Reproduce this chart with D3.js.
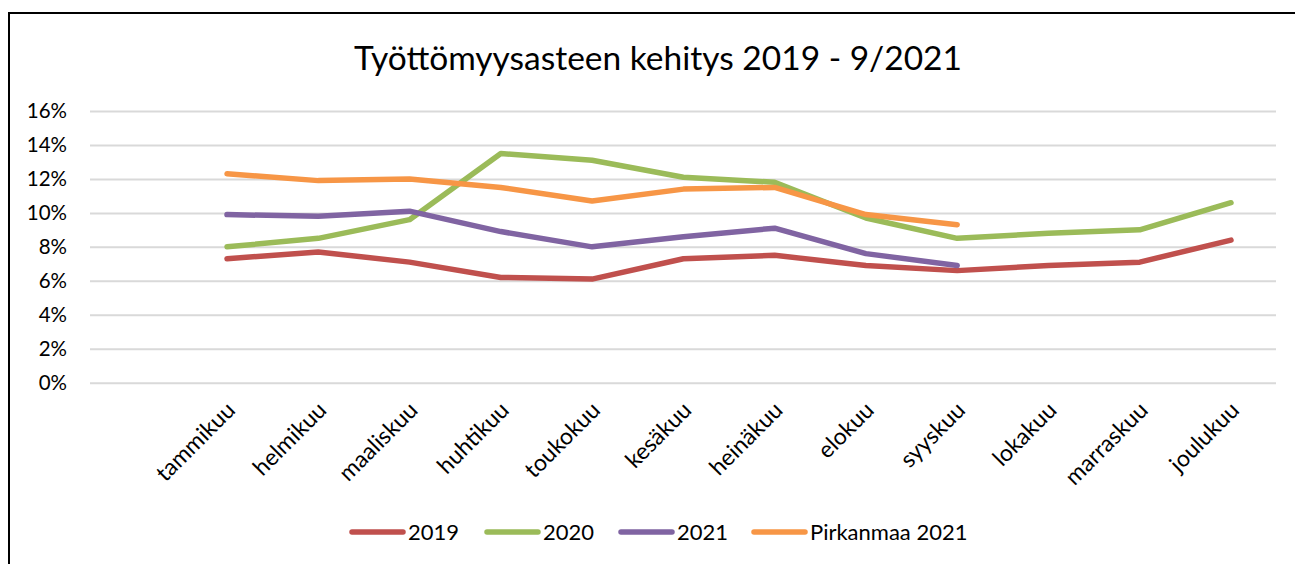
<!DOCTYPE html>
<html>
<head>
<meta charset="utf-8">
<script src="https://cdn.jsdelivr.net/npm/d3@7"></script>
<style>
  html, body { margin: 0; padding: 0; background: #fff; }
  svg { display: block; }
  text { font-family: Lato, "Open Sans", sans-serif; fill: #000; }
</style>
</head>
<body>
<svg id="chart" width="1295" height="564"></svg>
<script>
const months = ["tammikuu","helmikuu","maaliskuu","huhtikuu","toukokuu","kesäkuu","heinäkuu","elokuu","syyskuu","lokakuu","marraskuu","joulukuu"];
const v2019 = [7.3, 7.7, 7.1, 6.2, 6.1, 7.3, 7.5, 6.9, 6.6, 6.9, 7.1, 8.4];
const v2020 = [8.0, 8.5, 9.6, 13.5, 13.1, 12.1, 11.8, 9.7, 8.5, 8.8, 9.0, 10.6];
const v2021 = [9.9, 9.8, 10.1, 8.9, 8.0, 8.6, 9.1, 7.6, 6.9];
const vPirkanmaa2021 = [12.3, 11.9, 12.0, 11.5, 10.7, 11.4, 11.5, 9.9, 9.3];
const seriesNames = ["2019", "2020", "2021", "Pirkanmaa 2021"];
const seriesColors = ["#C0504D", "#9BBB59", "#8064A2", "#F79646"];
const yTicks = [0, 2, 4, 6, 8, 10, 12, 14, 16];
const title = "Työttömyysasteen kehitys 2019 - 9/2021";

const series = [v2019, v2020, v2021, vPirkanmaa2021].map((vals, i) => ({
  name: seriesNames[i], color: seriesColors[i], values: vals
}));

const svg = d3.select("#chart");
svg.append("rect").attr("width", 1295).attr("height", 564).attr("fill", "#fff");

// outer frame (left + top visible)
svg.append("path").attr("d", "M9,564V13H1295").attr("fill", "none")
  .attr("stroke", "#000").attr("stroke-width", 2);

const x = d3.scalePoint().domain(months).range([227, 1231]);
const y = d3.scaleLinear().domain([0, 16]).range([382.7, 111]);

// title
svg.append("text").attr("x", 658).attr("y", 70).attr("text-anchor", "middle")
  .style("font-size", "33.5px").text(title);

// grid
const yAxis = d3.axisLeft(y).tickValues(yTicks).tickFormat(d => d + "%")
  .tickSize(-(1276 - 90)).tickPadding(23);
const gy = svg.append("g").attr("transform", "translate(90,0)").call(yAxis);
gy.select(".domain").remove();
gy.selectAll(".tick line").attr("stroke", "#d9d9d9").attr("stroke-width", 2);
gy.selectAll(".tick text").style("font-size", "20.5px").attr("fill", "#000");

// x labels
const xAxis = d3.axisBottom(x).tickSize(0).tickPadding(0);
const gx = svg.append("g").attr("transform", "translate(0,382.7)").call(xAxis);
gx.select(".domain").remove();
gx.selectAll(".tick text")
  .style("font-size", "23px").attr("fill", "#000")
  .attr("text-anchor", "end")
  .attr("dy", "0")
  .attr("y", 0)
  .attr("transform", "translate(9,29) rotate(-45)");

// lines
const line = d3.line().x((d, i) => x(months[i])).y(d => y(d));
svg.append("g").selectAll("path").data(series).join("path")
  .attr("d", d => line(d.values))
  .attr("fill", "none")
  .attr("stroke", d => d.color)
  .attr("stroke-width", 5.5)
  .attr("stroke-linecap", "round")
  .attr("stroke-linejoin", "round");

// legend
const legendX = [352, 487, 621, 754];
const lg = svg.append("g").selectAll("g").data(series).join("g")
  .attr("transform", (d, i) => `translate(${legendX[i]},532)`);
lg.append("line").attr("x1", 0).attr("x2", 51).attr("y1", 0).attr("y2", 0)
  .attr("stroke", d => d.color).attr("stroke-width", 5.5).attr("stroke-linecap", "round");
lg.append("text").attr("x", 56).attr("y", 0).attr("dy", "0.36em")
  .style("font-size", "22px").text(d => d.name);
</script>
</body>
</html>
